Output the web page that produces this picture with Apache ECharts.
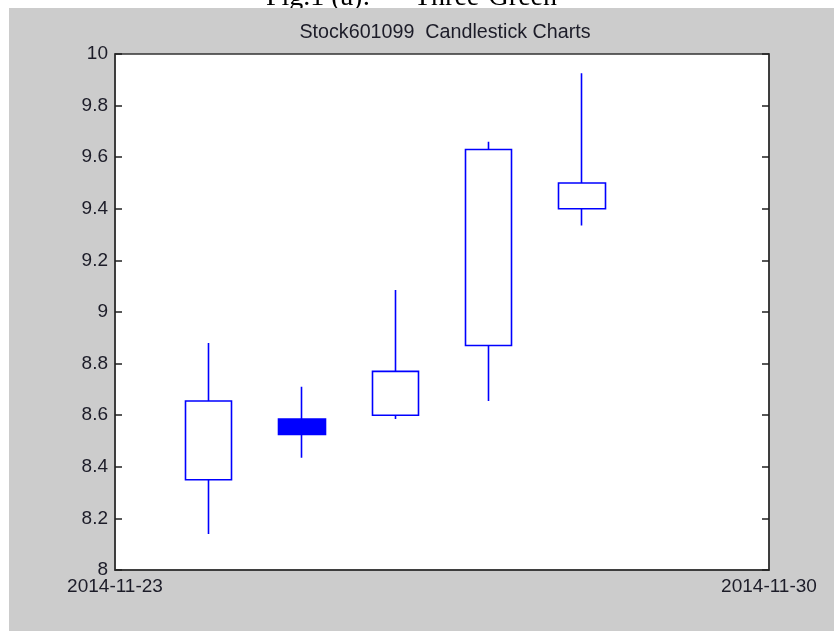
<!DOCTYPE html>
<html>
<head>
<meta charset="utf-8">
<script src="https://cdn.jsdelivr.net/npm/echarts@6/dist/echarts.min.js"></script>
<style>
  html, body { margin: 0; padding: 0; background: #ffffff; }
  #chart { width: 834px; height: 631px; }
</style>
</head>
<body>
<div id="chart"></div>
<script>
// ---- data ----
var startDate = '2014-11-23';
var dates = ['2014-11-24', '2014-11-25', '2014-11-26', '2014-11-27', '2014-11-28'];
var openVals  = [8.35, 8.585, 8.60, 8.87, 9.40];
var closeVals = [8.655, 8.525, 8.77, 9.63, 9.50];
var lowVals   = [8.14, 8.435, 8.585, 8.655, 9.335];
var highVals  = [8.88, 8.71, 9.085, 9.66, 9.925];
var xTickLabels = ['2014-11-23', '2014-11-30'];
var titleText = 'Stock601099  Candlestick Charts';
var captionLeft = 'Fig.1 (a):';
var captionRight = 'Three-Green';

// ---- build ----
var DAY = 86400000;
var t0 = Date.parse(startDate);
var candleData = dates.map(function (d, i) {
  return [(Date.parse(d) - t0) / DAY, openVals[i], closeVals[i], lowVals[i], highVals[i]];
});
var xSpan = (Date.parse(xTickLabels[1]) - t0) / DAY;

var font = 'Liberation Sans, Arial, Helvetica, sans-serif';
var txtColor = '#1c1c28';

var chart = echarts.init(document.getElementById('chart'), null, { renderer: 'canvas' });
chart.setOption({
  backgroundColor: '#ffffff',
  animation: false,
  title: {
    text: titleText,
    left: 440,
    top: 18,
    textAlign: 'center',
    textStyle: { fontFamily: font, fontSize: 19.7, fontWeight: 'normal', color: txtColor }
  },
  graphic: [
    {
      type: 'text', z: -200, left: 266, top: -16,
      style: { text: captionLeft, font: '28px "Liberation Serif", "Times New Roman", serif', fill: '#000' }
    },
    {
      type: 'text', z: -200, left: 414, top: -16,
      style: { text: captionRight, font: '28px "Liberation Serif", "Times New Roman", serif', fill: '#000' }
    },
    {
      type: 'rect', z: -100, silent: true,
      shape: { x: 9, y: 8, width: 834 - 9, height: 631 - 8 },
      style: { fill: '#cccccc' }
    }
  ],
  grid: {
    left: 115, right: 65, top: 54, bottom: 61,
    show: true, backgroundColor: '#ffffff', borderColor: '#333333', borderWidth: 1.5
  },
  xAxis: {
    type: 'value', min: 0, max: xSpan, interval: xSpan,
    axisLine: { show: true, lineStyle: { color: '#333333', width: 1.5 } },
    axisTick: { show: false },
    splitLine: { show: false },
    axisLabel: {
      show: true, margin: 7, showMinLabel: true, showMaxLabel: true,
      fontFamily: font, fontSize: 19, color: txtColor,
      formatter: function (v) { return xTickLabels[Math.round(v / xSpan)]; }
    }
  },
  yAxis: [
    {
      type: 'value', min: 8, max: 10, interval: 0.2, position: 'left',
      axisLine: { show: true, lineStyle: { color: '#333333', width: 1.5 } },
      axisTick: { show: true, inside: true, length: 7, lineStyle: { color: '#222222', width: 1.5 } },
      splitLine: { show: false },
      axisLabel: {
        margin: 7, fontFamily: font, fontSize: 19, color: txtColor,
        formatter: function (v) { return String(Math.round(v * 10) / 10); }
      }
    },
    {
      type: 'value', min: 8, max: 10, interval: 0.2, position: 'right',
      axisLine: { show: true, lineStyle: { color: '#333333', width: 1.5 } },
      axisTick: { show: true, inside: true, length: 7, lineStyle: { color: '#222222', width: 1.5 } },
      splitLine: { show: false },
      axisLabel: { show: false }
    }
  ],
  series: [
    {
      type: 'candlestick',
      xAxisIndex: 0, yAxisIndex: 0,
      barWidth: 47,
      encode: { x: 0, y: [1, 2, 3, 4] },
      data: candleData,
      itemStyle: {
        color: '#ffffff',
        color0: '#0000ff',
        borderColor: '#0000ff',
        borderColor0: '#0000ff',
        borderWidth: 1.6
      }
    }
  ]
});
</script>
</body>
</html>
